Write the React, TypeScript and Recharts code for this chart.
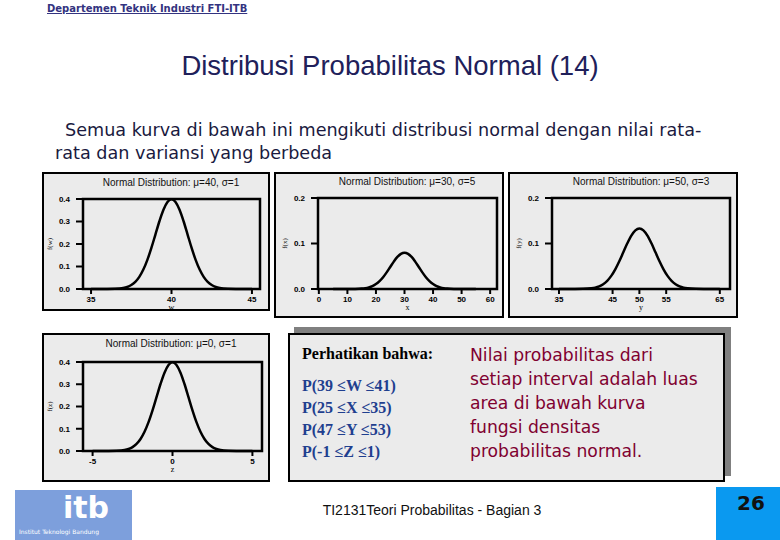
import React from 'react';
import { LineChart, Line, XAxis, YAxis, ReferenceArea } from 'recharts';

// nilai dibaca dari kurva pada gambar
const wValues = [35, 35.5, 36, 36.5, 37, 37.25, 37.5, 37.75, 38, 38.25, 38.5, 38.75, 39, 39.25, 39.5, 39.75, 40, 40.25, 40.5, 40.75, 41, 41.25, 41.5, 41.75, 42, 42.25, 42.5, 42.75, 43, 43.5, 44, 44.5, 45];
const wDensity = [0, 0, 0.0001, 0.0009, 0.0044, 0.0091, 0.0175, 0.0317, 0.054, 0.0863, 0.1295, 0.1826, 0.242, 0.3011, 0.3521, 0.3867, 0.3989, 0.3867, 0.3521, 0.3011, 0.242, 0.1826, 0.1295, 0.0863, 0.054, 0.0317, 0.0175, 0.0091, 0.0044, 0.0009, 0.0001, 0, 0];

const xValues = [5, 7.5, 10, 12.5, 15, 16.25, 17.5, 18.75, 20, 21.25, 22.5, 23.75, 25, 26.25, 27.5, 28.75, 30, 31.25, 32.5, 33.75, 35, 36.25, 37.5, 38.75, 40, 41.25, 42.5, 43.75, 45, 47.5, 50, 52.5, 55];
const xDensity = [0, 0, 0, 0.0002, 0.0009, 0.0018, 0.0035, 0.0063, 0.0108, 0.0173, 0.0259, 0.0365, 0.0484, 0.0602, 0.0704, 0.0773, 0.0798, 0.0773, 0.0704, 0.0602, 0.0484, 0.0365, 0.0259, 0.0173, 0.0108, 0.0063, 0.0035, 0.0018, 0.0009, 0.0002, 0, 0, 0];

const yValues = [35, 36.5, 38, 39.5, 41, 41.75, 42.5, 43.25, 44, 44.75, 45.5, 46.25, 47, 47.75, 48.5, 49.25, 50, 50.75, 51.5, 52.25, 53, 53.75, 54.5, 55.25, 56, 56.75, 57.5, 58.25, 59, 60.5, 62, 63.5, 65];
const yDensity = [0, 0, 0, 0.0003, 0.0015, 0.003, 0.0058, 0.0106, 0.018, 0.0288, 0.0432, 0.0609, 0.0807, 0.1004, 0.1174, 0.1289, 0.133, 0.1289, 0.1174, 0.1004, 0.0807, 0.0609, 0.0432, 0.0288, 0.018, 0.0106, 0.0058, 0.003, 0.0015, 0.0003, 0, 0, 0];

const zValues = [-5, -4.5, -4, -3.5, -3, -2.75, -2.5, -2.25, -2, -1.75, -1.5, -1.25, -1, -0.75, -0.5, -0.25, 0, 0.25, 0.5, 0.75, 1, 1.25, 1.5, 1.75, 2, 2.25, 2.5, 2.75, 3, 3.5, 4, 4.5, 5];
const zDensity = [0, 0, 0.0001, 0.0009, 0.0044, 0.0091, 0.0175, 0.0317, 0.054, 0.0863, 0.1295, 0.1826, 0.242, 0.3011, 0.3521, 0.3867, 0.3989, 0.3867, 0.3521, 0.3011, 0.242, 0.1826, 0.1295, 0.0863, 0.054, 0.0317, 0.0175, 0.0091, 0.0044, 0.0009, 0.0001, 0, 0];

const wTicks = [35, 40, 45];
const xTicks = [0, 10, 20, 30, 40, 50, 60];
const yTicks = [35, 45, 50, 55, 65];
const zTicks = [-5, 0, 5];
const densityTicksHigh = [0, 0.1, 0.2, 0.3, 0.4];
const densityTicksLow = [0, 0.1, 0.2];

const probLines = ['P(39 \u2264W \u226441)', 'P(25 \u2264X \u226435)', 'P(47 \u2264Y \u226453)', 'P(-1 \u2264Z \u22641)'];
const noteLines = ['Nilai probabilitas dari', 'setiap interval adalah luas', 'area di bawah kurva', 'fungsi densitas', 'probabilitas normal.'];

const tickStyle = { fontSize: 8, fontWeight: 'bold', fill: '#000', fontFamily: 'Liberation Sans, Arial' };

function MiniChart({ xs, ys, domain, xTicks, yTicks, xLabel, yLabel, frame }: any) {
  const data = xs.map((x: number, i: number) => ({ x, y: ys[i] }));
  const [fl, ft, fr, fb] = frame;
  const left = fl - 42;
  const top = ft - 8;
  const width = fr - left + 3;
  const height = fb - top + 24;
  const yMax = yTicks[yTicks.length - 1];
  return (
    <div style={{ position: 'absolute', left, top }}>
      <LineChart width={width} height={height} data={data} margin={{ top: 8, right: 3, left: 0, bottom: 0 }}>
        <XAxis
          dataKey="x"
          type="number"
          domain={domain}
          ticks={xTicks}
          interval={0}
          allowDataOverflow
          axisLine={false}
          tickLine={{ stroke: '#000', strokeWidth: 2 }}
          tickSize={5}
          tickMargin={2}
          tick={tickStyle}
          height={24}
          label={{ value: xLabel, position: 'insideBottom', offset: 3, fontSize: 8, fill: '#000' }}
        />
        <YAxis
          type="number"
          domain={[0, yMax]}
          ticks={yTicks}
          width={42}
          axisLine={false}
          tickLine={{ stroke: '#000', strokeWidth: 2 }}
          tickSize={7}
          tickMargin={6}
          tick={tickStyle}
          tickFormatter={(v: number) => v.toFixed(1)}
          label={{ value: yLabel, angle: -90, position: 'insideLeft', offset: 9, fontSize: 7, fill: '#000', style: { textAnchor: 'middle' } }}
        />
        <ReferenceArea x1={domain[0]} x2={domain[1]} y1={0} y2={yMax} fill="none" stroke="#000" strokeWidth={2.5} />
        <Line dataKey="y" type="monotone" dot={false} stroke="#000" strokeWidth={2.5} isAnimationActive={false} />
      </LineChart>
    </div>
  );
}

function Panel({ box, title, titleX, titleY }: any) {
  const [l, t, r, b] = box;
  return (
    <>
      <div style={{ position: 'absolute', left: l, top: t, width: r - l, height: b - t, boxSizing: 'border-box', border: '2.5px solid #000', background: '#ebebeb' }} />
      <div style={{ position: 'absolute', left: titleX - 100, top: titleY - 7, width: 200, textAlign: 'center', fontFamily: 'Liberation Sans, Arial', fontSize: 10, color: '#111', whiteSpace: 'nowrap' }}>
        {title}
      </div>
    </>
  );
}

export default function App() {
  return (
    <div style={{ position: 'absolute', left: 0, top: 0, width: 780, height: 540, overflow: 'hidden', background: '#fff' }}>
      <div style={{ position: 'absolute', left: 47, top: 3, fontFamily: 'DejaVu Sans, Verdana', fontSize: 10, fontWeight: 'bold', color: '#333380', textDecoration: 'underline', whiteSpace: 'nowrap' }}>
        Departemen Teknik Industri FTI-ITB
      </div>
      <div style={{ position: 'absolute', left: 0, top: 50, width: 780, textAlign: 'center', fontFamily: 'Liberation Sans, Arial', fontSize: 27.5, color: '#20205a', whiteSpace: 'nowrap' }}>
        Distribusi Probabilitas Normal (14)
      </div>
      <div style={{ position: 'absolute', left: 65, top: 119, fontFamily: 'DejaVu Sans, Verdana', fontSize: 17.6, color: '#1a1a40', whiteSpace: 'nowrap', lineHeight: '23px' }}>
        Semua kurva di bawah ini mengikuti distribusi normal dengan nilai rata-
      </div>
      <div style={{ position: 'absolute', left: 55, top: 142, fontFamily: 'DejaVu Sans, Verdana', fontSize: 17.6, color: '#1a1a40', whiteSpace: 'nowrap', lineHeight: '23px' }}>
        rata dan variansi yang berbeda
      </div>

      <Panel box={[42, 172, 270, 311]} title={'Normal Distribution: \u03bc=40, \u03c3=1'} titleX={171} titleY={184} />
      <Panel box={[274, 172, 504, 318]} title={'Normal Distribution: \u03bc=30, \u03c3=5'} titleX={407} titleY={183} />
      <Panel box={[508, 172, 738, 318]} title={'Normal Distribution: \u03bc=50, \u03c3=3'} titleX={641} titleY={183} />
      <Panel box={[42, 333, 270, 482]} title={'Normal Distribution: \u03bc=0, \u03c3=1'} titleX={171} titleY={345} />

      <MiniChart xs={wValues} ys={wDensity} domain={[34.5, 45.5]} xTicks={wTicks} yTicks={densityTicksHigh} xLabel="w" yLabel="f(w)" frame={[83, 199, 260, 289]} />
      <MiniChart xs={xValues} ys={xDensity} domain={[-0.3, 62.4]} xTicks={xTicks} yTicks={densityTicksLow} xLabel="x" yLabel="f(x)" frame={[318, 198, 497, 289]} />
      <MiniChart xs={yValues} ys={yDensity} domain={[33.7, 66.9]} xTicks={yTicks} yTicks={densityTicksLow} xLabel="y" yLabel="f(y)" frame={[552, 198, 730, 289]} />
      <MiniChart xs={zValues} ys={zDensity} domain={[-5.6, 5.6]} xTicks={zTicks} yTicks={densityTicksHigh} xLabel="z" yLabel="f(z)" frame={[83, 362, 262, 451]} />

      <div style={{ position: 'absolute', left: 294, top: 327, width: 437, height: 149, background: '#808080' }} />
      <div style={{ position: 'absolute', left: 288, top: 333, width: 437, height: 149, boxSizing: 'border-box', border: '2.5px solid #000', background: '#ebebeb' }} />
      <div style={{ position: 'absolute', left: 302, top: 345, fontFamily: 'Liberation Serif, Times New Roman', fontSize: 16, fontWeight: 'bold', color: '#000', whiteSpace: 'nowrap' }}>
        Perhatikan bahwa:
      </div>
      <div style={{ position: 'absolute', left: 302, top: 375, fontFamily: 'Liberation Serif, Times New Roman', fontSize: 16, fontWeight: 'bold', color: '#1f3f8f', lineHeight: '22px', whiteSpace: 'nowrap' }}>
        {probLines.map((s) => (
          <div key={s}>{s}</div>
        ))}
      </div>
      <div style={{ position: 'absolute', left: 470, top: 343, fontFamily: 'DejaVu Sans, Verdana', fontSize: 17.2, color: '#800030', lineHeight: '24px', whiteSpace: 'nowrap' }}>
        {noteLines.map((s) => (
          <div key={s}>{s}</div>
        ))}
      </div>

      <div style={{ position: 'absolute', left: 15, top: 490, width: 117, height: 50, background: '#7d9fdc', color: '#fff', fontFamily: 'DejaVu Sans' }}>
        <div style={{ position: 'absolute', left: 48, top: 1, fontSize: 30, lineHeight: '34px', fontWeight: 'bold' }}>itb</div>
        <div style={{ position: 'absolute', left: 4, top: 38, fontSize: 6, lineHeight: '8px', whiteSpace: 'nowrap' }}>Institut Teknologi Bandung</div>
      </div>
      <div style={{ position: 'absolute', left: 0, top: 502, width: 864, textAlign: 'center', fontFamily: 'Liberation Sans Narrow, Liberation Sans, Arial', fontSize: 14, color: '#111', whiteSpace: 'nowrap' }}>
        TI2131Teori Probabilitas - Bagian 3
      </div>
      <div style={{ position: 'absolute', left: 716, top: 487, width: 64, height: 53, background: '#0a99f0' }}>
        <div style={{ position: 'absolute', left: 21, top: 4, fontFamily: 'DejaVu Sans', fontSize: 20, fontWeight: 'bold', color: '#111' }}>26</div>
      </div>
    </div>
  );
}
